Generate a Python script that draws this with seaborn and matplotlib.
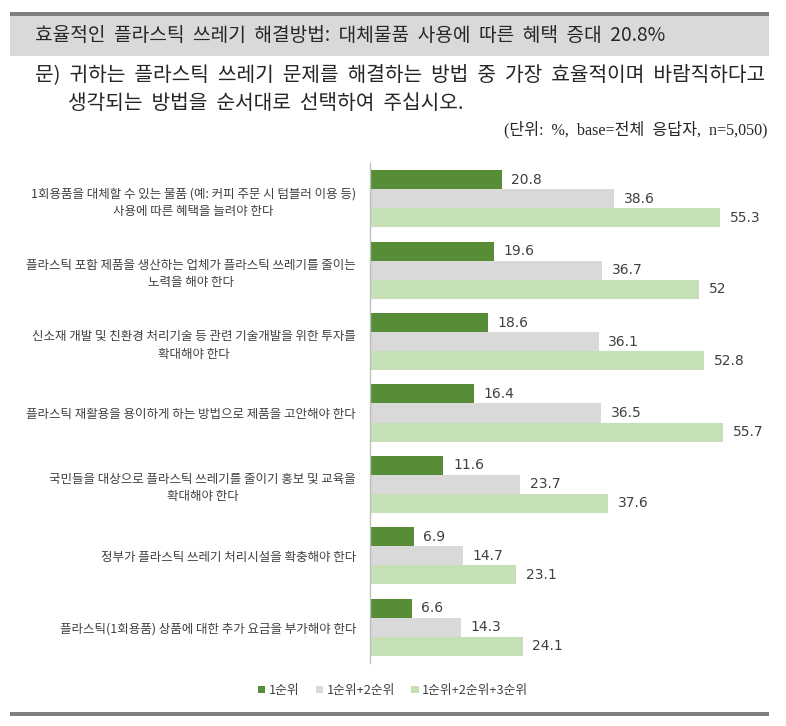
import numpy as np
import pandas as pd
import matplotlib.pyplot as plt
import seaborn as sns
from matplotlib.patches import Rectangle, Patch

# ---------------------------------------------------------
# Data
# ---------------------------------------------------------
categories = [
    "1회용품을 대체할 수 있는 물품 (예: 커피 주문 시 텀블러 이용 등)\n사용에 따른 혜택을 늘려야 한다",
    "플라스틱 포함 제품을 생산하는 업체가 플라스틱 쓰레기를 줄이는\n노력을 해야 한다",
    "신소재 개발 및 친환경 처리기술 등 관련 기술개발을 위한 투자를\n확대해야 한다",
    "플라스틱 재활용을 용이하게 하는 방법으로 제품을 고안해야 한다",
    "국민들을 대상으로 플라스틱 쓰레기를 줄이기 홍보 및 교육을\n확대해야 한다",
    "정부가 플라스틱 쓰레기 처리시설을 확충해야 한다",
    "플라스틱(1회용품) 상품에 대한 추가 요금을 부가해야 한다",
]
series_names = ["1순위", "1순위+2순위", "1순위+2순위+3순위"]
rank1 = [20.8, 19.6, 18.6, 16.4, 11.6, 6.9, 6.6]
rank12 = [38.6, 36.7, 36.1, 36.5, 23.7, 14.7, 14.3]
rank123 = [55.3, 52.0, 52.8, 55.7, 37.6, 23.1, 24.1]

title_text = "효율적인  플라스틱  쓰레기  해결방법:  대체물품  사용에  따른  혜택  증대  20.8%"
question_1 = "문)  귀하는  플라스틱  쓰레기  문제를  해결하는  방법  중  가장  효율적이며  바람직하다고"
question_2 = "생각되는  방법을  순서대로  선택하여  주십시오."
unit_text = "(단위:  %,  base=전체  응답자,  n=5,050)"

colors = ["#578D36", "#D9D9D9", "#C5E0B4"]

df = pd.DataFrame({
    "cat": categories * 3,
    "series": np.repeat(series_names, len(categories)),
    "value": rank1 + rank12 + rank123,
})

# ---------------------------------------------------------
# Plot
# ---------------------------------------------------------
sns.set_style("white")
KR = ["Noto Sans CJK KR", "DejaVu Sans"]
plt.rcParams["font.family"] = KR

fig = plt.figure(figsize=(7.86, 7.26), dpi=100)
ax = fig.add_axes([0.4707, 0.0868, 0.4835, 0.6887])

sns.barplot(data=df, y="cat", x="value", hue="series", orient="h",
            palette=colors, saturation=1, width=0.8, linewidth=0,
            legend=False, ax=ax)

for cont in ax.containers:
    vals = cont.datavalues
    ax.bar_label(cont, labels=[f"{v:g}" for v in vals], padding=7,
                 fontsize=10, color="#404040", family="DejaVu Sans")

ax.set_xlim(0, 60)
ax.set_ylim(6.5, -0.5)
ax.set_xlabel("")
ax.set_ylabel("")
ax.set_xticks([])
for s in ["top", "right", "bottom"]:
    ax.spines[s].set_visible(False)
ax.spines["left"].set_color("#BFBFBF")
ax.spines["left"].set_linewidth(1)
ax.tick_params(axis="y", length=0, pad=10)
for lab in ax.get_yticklabels():
    lab.set_fontsize(9)
    lab.set_color("#404040")
    lab.set_multialignment("center")
    lab.set_linespacing(1.45)

# legend
handles = [Patch(facecolor=c, edgecolor="none") for c in colors]
fig.legend(handles, series_names, loc="center", bbox_to_anchor=(0.5, 0.049),
           ncol=3, frameon=False, fontsize=9.2, handlelength=0.55,
           handleheight=0.55, handletextpad=0.3, columnspacing=1.3,
           labelcolor="#404040")

# header band and rules
fig.patches.append(Rectangle((0.013, 0.923), 0.965, 0.056, transform=fig.transFigure,
                             facecolor="#D9D9D9", edgecolor="none"))
fig.patches.append(Rectangle((0.013, 0.978), 0.965, 0.006, transform=fig.transFigure,
                             facecolor="#7F7F7F", edgecolor="none"))
fig.patches.append(Rectangle((0.013, 0.014), 0.965, 0.0055, transform=fig.transFigure,
                             facecolor="#7F7F7F", edgecolor="none"))

fig.text(0.044, 0.951, title_text, fontsize=13.8, color="#262626", va="center")
fig.text(0.044, 0.897, question_1, fontsize=14.6, color="#262626", va="center")
fig.text(0.087, 0.858, question_2, fontsize=14.6, color="#262626", va="center")
fig.text(0.976, 0.821, unit_text, fontsize=11.6, color="#262626", va="center", ha="right",
         family=["Liberation Serif", "Noto Sans CJK KR"])

fig.savefig("out.png", dpi=100)
